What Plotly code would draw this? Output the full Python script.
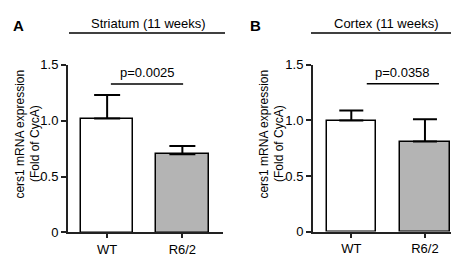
import plotly.graph_objects as go

groups = ["WT", "R6/2"]
striatum_mean = [1.02, 0.70]
striatum_sem = [0.21, 0.075]
cortex_mean = [1.00, 0.81]
cortex_sem = [0.09, 0.20]
y_ticks = [0, 0.5, 1.0, 1.5]
y_ticktext = ["0", "0.5", "1.0", "1.5"]
p_striatum = "p=0.0025"
p_cortex = "p=0.0358"

W, H = 459, 256
FONT = "Liberation Sans, Arial, sans-serif"
fills = ["white", "#b4b4b4"]

def px(x):
    return x / W

def py(y):
    return 1 - y / H

fig = go.Figure()
xs = [0, 1]
fig.add_trace(go.Bar(x=xs, y=striatum_mean, width=0.7, marker=dict(color=fills, line=dict(color="black", width=1.5)),
                     error_y=dict(type="data", symmetric=False, array=striatum_sem, arrayminus=[0, 0],
                                  color="black", thickness=2, width=13),
                     xaxis="x", yaxis="y", showlegend=False))
fig.add_trace(go.Bar(x=xs, y=cortex_mean, width=0.67, marker=dict(color=fills, line=dict(color="black", width=1.5)),
                     error_y=dict(type="data", symmetric=False, array=cortex_sem, arrayminus=[0, 0],
                                  color="black", thickness=2, width=12),
                     xaxis="x2", yaxis="y2", showlegend=False))

yax = dict(range=[0, 1.5], tickvals=y_ticks, ticktext=y_ticktext, showgrid=False, zeroline=False,
           showline=True, linecolor="#222", linewidth=2, ticks="outside", ticklen=5, tickwidth=1.5,
           tickcolor="#222", tickfont=dict(family=FONT, size=13, color="black"))
xax = dict(tickvals=xs, ticktext=groups, showgrid=False, zeroline=False, showline=True, linecolor="#222",
           linewidth=2, ticks="outside", ticklen=4, tickwidth=1.5, tickcolor="#222",
           tickfont=dict(family=FONT, size=13, color="black"))

fig.update_layout(
    width=W, height=H, margin=dict(l=0, r=0, t=0, b=0), plot_bgcolor="white", paper_bgcolor="white",
    bargap=0,
    xaxis=dict(xax, domain=[px(60), px(215)], range=[-0.52, 1.54], anchor="y"),
    yaxis=dict(yax, domain=[py(231), py(53)], anchor="x"),
    xaxis2=dict(xax, domain=[px(305), px(456)], range=[-0.52, 1.53], anchor="y2"),
    yaxis2=dict(yax, domain=[py(230), py(53)], anchor="x2"),
)

shapes = []
ann = []
# panel titles and underlines
for x0, x1, title, letter, lx in [(61, 217, "Striatum (11 weeks)", "A", 10), (303, 452, "Cortex (11 weeks)", "B", 247)]:
    shapes.append(dict(type="line", xref="paper", yref="paper", x0=px(x0), x1=px(x1), y0=py(19), y1=py(19),
                       line=dict(color="black", width=1.5)))
    ann.append(dict(text=title, xref="paper", yref="paper", x=px((x0 + x1) / 2 + 1), y=py(9), showarrow=False,
                    font=dict(family=FONT, size=13, color="black"), xanchor="center", yanchor="middle"))
    ann.append(dict(text="<b>" + letter + "</b>", xref="paper", yref="paper", x=px(lx), y=py(11), showarrow=False,
                    font=dict(family=FONT, size=15, color="black"), xanchor="center", yanchor="middle"))

# p-value lines
for xr, yr, x0, x1, txt in [("x", "y", 0.05, 1.01, p_striatum), ("x2", "y2", 0.21, 1.19, p_cortex)]:
    shapes.append(dict(type="line", xref=xr, yref=yr, x0=x0, x1=x1, y0=1.33, y1=1.33,
                       line=dict(color="black", width=1.5)))
    ann.append(dict(text=txt, xref=xr, yref=yr, x=(x0 + x1) / 2, y=1.33, showarrow=False, yshift=11,
                    font=dict(family=FONT, size=13, color="black"), xanchor="center", yanchor="middle"))

# y axis titles
for x1, x2 in [(12, 27), (256, 271)]:
    ann.append(dict(text="cers1 mRNA expression", xref="paper", yref="paper", x=px(x1), y=py(127), textangle=-90,
                    showarrow=False, font=dict(family=FONT, size=12, color="black"), xanchor="center", yanchor="middle"))
    ann.append(dict(text="(Fold of CycA)", xref="paper", yref="paper", x=px(x2), y=py(137), textangle=-90,
                    showarrow=False, font=dict(family=FONT, size=12, color="black"), xanchor="center", yanchor="middle"))

fig.update_layout(shapes=shapes, annotations=ann)
fig.write_html("out.html")
